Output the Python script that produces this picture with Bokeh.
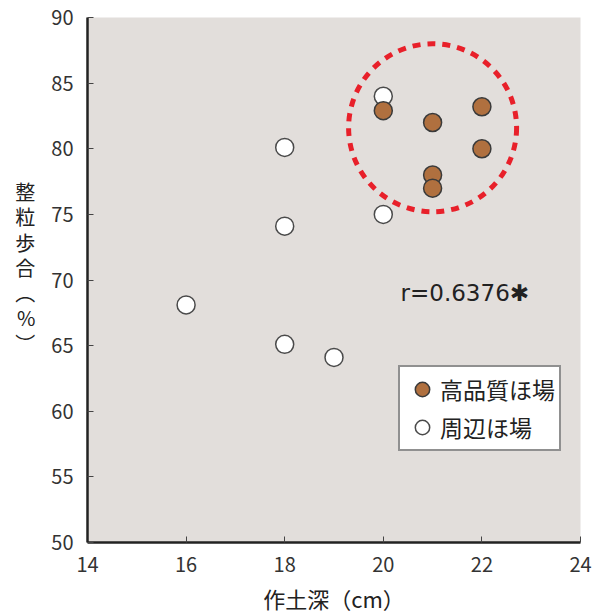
from bokeh.plotting import figure
from bokeh.models import Range1d, FixedTicker, Legend, LegendItem
from bokeh.core.properties import value
from bokeh.embed import file_html
from bokeh.resources import INLINE

# data
high_x = [20, 21, 22, 22, 21, 21]
high_y = [82.9, 82.0, 83.2, 80.0, 78.0, 77.0]
peri_x = [20, 20, 18, 18, 16, 18, 19]
peri_y = [84.0, 75.0, 80.1, 74.1, 68.1, 65.1, 64.1]
x_ticks = [14, 16, 18, 20, 22, 24]
y_ticks = [50, 55, 60, 65, 70, 75, 80, 85, 90]
highlight_x = [21.0]
highlight_y = [81.6]
annot_text = ["r=0.6376✱"]
annot_x = [20.35]
annot_y = [69.0]

FONT = "Noto Sans CJK JP"
BG = "#e2dedb"
BROWN = "#b0703f"

p = figure(width=595, height=616, output_backend="svg", toolbar_location=None,
           x_range=Range1d(14, 24), y_range=Range1d(50, 90),
           min_border_left=87, min_border_right=15, min_border_top=17, min_border_bottom=73)
p.background_fill_color = BG
p.border_fill_color = "white"
p.outline_line_color = None
p.xgrid.visible = False
p.ygrid.visible = False

for ax in (p.xaxis[0], p.yaxis[0]):
    ax.axis_line_color = "#222222"
    ax.axis_line_width = 2.5
    ax.major_tick_line_color = "#444444"
    ax.major_tick_line_width = 1
    ax.major_tick_in = 6
    ax.major_tick_out = 0
    ax.minor_tick_line_color = None
    ax.major_label_text_font = FONT
    ax.major_label_text_font_size = "20px"
    ax.major_label_text_color = "#333333"
    ax.axis_label_text_font = FONT
    ax.axis_label_text_font_size = "22px"
    ax.axis_label_text_color = "#222222"
    ax.axis_label_text_font_style = "normal"

p.xaxis.ticker = FixedTicker(ticks=x_ticks)
p.yaxis.ticker = FixedTicker(ticks=y_ticks)
p.xaxis.axis_label = "作土深（cm）"
p.xaxis.major_label_standoff = 14
p.xaxis.axis_label_standoff = 7
p.yaxis.axis_label = "整\n粒\n歩\n合\n︵\n%\n︶\n"
p.yaxis.axis_label_orientation = "horizontal"
p.yaxis.axis_label_text_font_size = "20px"
p.yaxis.axis_label_text_line_height = 0.87
p.yaxis.major_label_standoff = 14
p.yaxis.axis_label_standoff = 13

# highlight dashed circle
p.scatter(highlight_x, highlight_y, size=168, marker="circle", fill_color=None,
          line_color="#e8202a", line_width=5, line_dash="8 7")

r_peri = p.scatter(peri_x, peri_y, size=18, marker="circle", fill_color="white",
                   line_color="#4a4a4a", line_width=1.5)
r_high = p.scatter(high_x, high_y, size=18, marker="circle", fill_color=BROWN,
                   line_color="#3a3a3a", line_width=1.5)

p.text(annot_x, annot_y, text=annot_text, text_font=value("DejaVu Sans"), text_font_size="23px",
       text_color="#222222", text_baseline="middle", text_align="left")

legend = Legend(items=[LegendItem(label="高品質ほ場", renderers=[r_high]),
                       LegendItem(label="周辺ほ場", renderers=[r_peri])],
                location=(311, 91))
legend.label_text_font = FONT
legend.label_text_font_size = "23px"
legend.label_text_color = "#222222"
legend.border_line_color = "#222222"
legend.border_line_width = 2
legend.background_fill_color = "white"
legend.background_fill_alpha = 1
legend.glyph_width = 36
legend.glyph_height = 36
legend.label_height = 36
legend.spacing = 2
legend.padding = 4
legend.margin = 0
legend.label_standoff = 0
p.add_layout(legend, "center")

open("out.html", "w").write(file_html(p, INLINE))
